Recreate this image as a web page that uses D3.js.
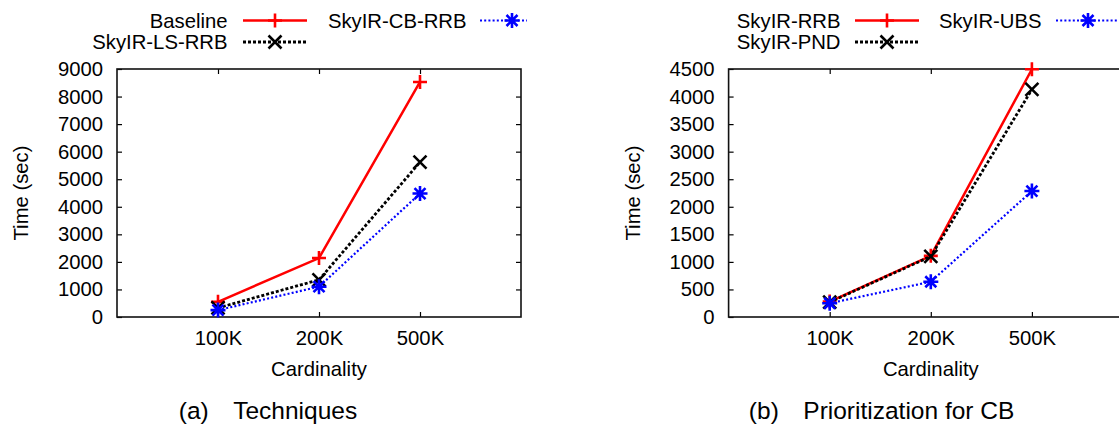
<!DOCTYPE html>
<html>
<head>
<meta charset="utf-8">
<script src="https://cdn.jsdelivr.net/npm/d3@7"></script>
<style>
  html, body { margin: 0; padding: 0; background: #fff; }
  svg { display: block; }
  text { font-family: "Liberation Sans", Arial, Helvetica, sans-serif; fill: #000; }
</style>
</head>
<body>
<svg id="chart" width="1119" height="425"></svg>
<script>
// Cardinalities on the x axis (shared by both panels)
const cardinalities = ["100K", "200K", "500K"];

// Panel (a): running time of each technique, seconds
const baselineTimes = [550, 2140, 8530];
const lsRrbTimes    = [330, 1350, 5620];
const cbRrbTimes    = [250, 1100, 4480];
const timeTicksA    = [0, 1000, 2000, 3000, 4000, 5000, 6000, 7000, 8000, 9000];

// Panel (b): prioritization strategies for CB, seconds
const rrbTimes = [280, 1110, 4495];
const pndTimes = [270, 1100, 4130];
const ubsTimes = [250, 640, 2285];
const timeTicksB = [0, 500, 1000, 1500, 2000, 2500, 3000, 3500, 4000, 4500];

const FONT = 20.3;

const markerPaths = {
  plus: "M-7,0H7M0,-7V7",
  cross: "M-6.5,-6.5L6.5,6.5M-6.5,6.5L6.5,-6.5",
  star: "M-7.5,0H7.5M0,-7.5V7.5M-5.5,-5.5L5.5,5.5M-5.5,5.5L5.5,-5.5"
};

const styles = {
  red:   { color: "#ff0000", width: 2.5, dash: null,    marker: "plus" },
  black: { color: "#000000", width: 2.8, dash: "3,2",   marker: "cross" },
  blue:  { color: "#0000ff", width: 2.2, dash: "2,2.2", marker: "star" }
};

const svg = d3.select("#chart");

function drawPanel(cfg) {
  const g = svg.append("g");
  const clipId = "clip-" + cfg.id;
  svg.append("clipPath").attr("id", clipId)
    .append("rect").attr("x", cfg.clip[0]).attr("y", 0)
    .attr("width", cfg.clip[1] - cfg.clip[0]).attr("height", 425);
  g.attr("clip-path", `url(#${clipId})`);

  const x = d3.scalePoint().domain(cardinalities)
    .range([cfg.left, cfg.right]).padding(1);
  const y = d3.scaleLinear().domain([0, cfg.ticks[cfg.ticks.length - 1]])
    .range([cfg.bottom, cfg.top]);

  // Axes with inward ticks on all four sides
  const axL = g.append("g").attr("transform", `translate(${cfg.left},0)`)
    .call(d3.axisLeft(y).tickValues(cfg.ticks).tickFormat(d3.format("d"))
      .tickSizeInner(-5).tickSizeOuter(0).tickPadding(14));
  const axR = g.append("g").attr("transform", `translate(${cfg.right},0)`)
    .call(d3.axisRight(y).tickValues(cfg.ticks.slice(1, -1)).tickSizeInner(-5).tickSizeOuter(0).tickFormat(""));
  const axB = g.append("g").attr("transform", `translate(0,${cfg.bottom})`)
    .call(d3.axisBottom(x).tickSizeInner(-5).tickSizeOuter(0).tickPadding(14));
  const axT = g.append("g").attr("transform", `translate(0,${cfg.top})`)
    .call(d3.axisTop(x).tickSizeInner(-5).tickSizeOuter(0).tickFormat(""));
  [axL, axR, axB, axT].forEach(a => {
    a.select(".domain").remove();
    a.selectAll(".tick line").attr("stroke", "#000").attr("stroke-width", 1.2);
    a.selectAll("text").attr("font-size", FONT).attr("fill", "#000")
      .style("font-family", '"Liberation Sans", Arial, sans-serif');
  });

  // Plot border
  g.append("rect")
    .attr("x", cfg.left).attr("y", cfg.top)
    .attr("width", cfg.right - cfg.left).attr("height", cfg.bottom - cfg.top)
    .attr("fill", "none").attr("stroke", "#111").attr("stroke-width", 1.6);

  // Series lines and point markers
  const line = d3.line().x((d, i) => x(cardinalities[i])).y(d => y(d));
  cfg.series.forEach(s => {
    const st = styles[s.style];
    g.append("path").datum(s.values)
      .attr("d", line).attr("fill", "none")
      .attr("stroke", st.color).attr("stroke-width", st.width)
      .attr("stroke-dasharray", st.dash);
    g.selectAll(null).data(s.values).enter().append("path")
      .attr("d", markerPaths[st.marker])
      .attr("transform", (d, i) => `translate(${x(cardinalities[i])},${y(d)})`)
      .attr("fill", "none").attr("stroke", st.color).attr("stroke-width", 2.6);
  });

  // Legend (two columns, two rows)
  cfg.series.forEach((s, i) => {
    const st = styles[s.style];
    const pos = cfg.legend[i];
    g.append("text").attr("x", pos.textRight).attr("y", pos.y).attr("dy", "0.35em")
      .attr("text-anchor", "end").attr("font-size", FONT).text(s.name);
    g.append("line")
      .attr("x1", pos.lineStart).attr("x2", pos.lineStart + 64)
      .attr("y1", pos.y).attr("y2", pos.y)
      .attr("stroke", st.color).attr("stroke-width", st.width)
      .attr("stroke-dasharray", st.dash);
    g.append("path").attr("d", markerPaths[st.marker])
      .attr("transform", `translate(${pos.lineStart + 32},${pos.y})`)
      .attr("fill", "none").attr("stroke", st.color).attr("stroke-width", 2.6);
  });

  // Axis titles and caption
  g.append("text")
    .attr("transform", `translate(${cfg.left - 96},${(cfg.top + cfg.bottom) / 2}) rotate(-90)`)
    .attr("dy", "0.35em").attr("text-anchor", "middle").attr("font-size", FONT)
    .text("Time (sec)");
  g.append("text")
    .attr("x", x(cardinalities[1])).attr("y", 376)
    .attr("text-anchor", "middle").attr("font-size", FONT)
    .text("Cardinality");
  g.append("text")
    .attr("x", cfg.captionX).attr("y", 419)
    .attr("text-anchor", "middle").attr("font-size", 24.5)
    .text(cfg.caption);
}

drawPanel({
  id: "a", left: 117, right: 521, top: 69, bottom: 317, clip: [0, 527],
  ticks: timeTicksA,
  series: [
    { name: "Baseline", values: baselineTimes, style: "red" },
    { name: "SkyIR-LS-RRB", values: lsRrbTimes, style: "black" },
    { name: "SkyIR-CB-RRB", values: cbRrbTimes, style: "blue" }
  ],
  legend: [
    { textRight: 227.5, lineStart: 243, y: 20.5 },
    { textRight: 227.5, lineStart: 243, y: 42 },
    { textRight: 466.5, lineStart: 480, y: 20.5 }
  ],
  caption: "(a)\u2003Techniques", captionX: 268
});

drawPanel({
  id: "b", left: 728.6, right: 1133, top: 69, bottom: 317, clip: [560, 1119],
  ticks: timeTicksB,
  series: [
    { name: "SkyIR-RRB", values: rrbTimes, style: "red" },
    { name: "SkyIR-PND", values: pndTimes, style: "black" },
    { name: "SkyIR-UBS", values: ubsTimes, style: "blue" }
  ],
  legend: [
    { textRight: 840.5, lineStart: 855, y: 20.5 },
    { textRight: 840.5, lineStart: 855, y: 42 },
    { textRight: 1041.5, lineStart: 1056, y: 20.5 }
  ],
  caption: "(b)\u2003Prioritization for CB", captionX: 881.6
});
</script>
</body>
</html>
